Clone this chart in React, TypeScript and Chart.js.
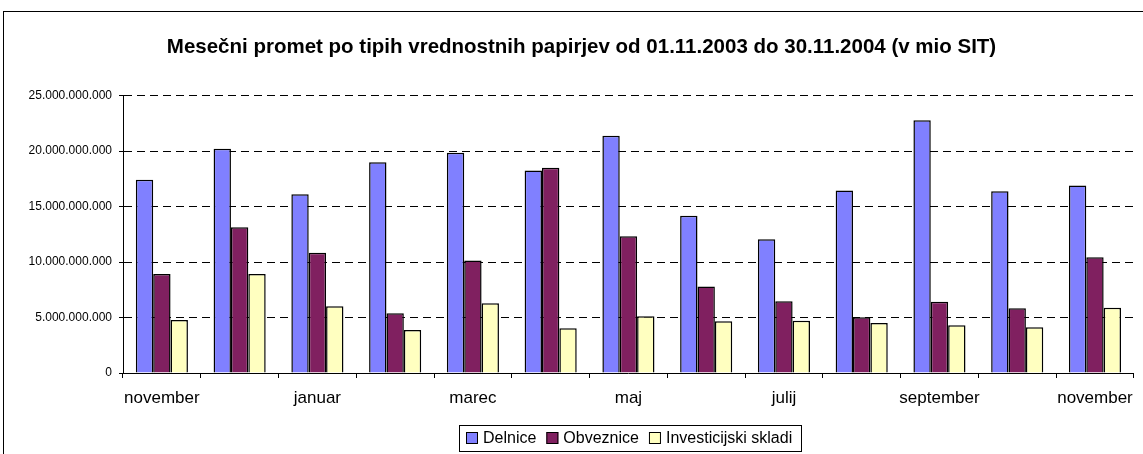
import React, { useEffect, useRef } from "react";
import { Chart, registerables } from "chart.js";

Chart.register(...registerables);

const categories = [
  "november", "december", "januar", "februar", "marec", "april", "maj",
  "junij", "julij", "avgust", "september", "oktober", "november",
];
const delnice = [17.42, 20.2, 16.12, 19.0, 19.85, 18.26, 21.39, 14.17, 12.06, 16.45, 22.77, 16.39, 16.9].map((v) => v * 1e9);
const obveznice = [8.93, 13.14, 10.83, 5.38, 10.13, 18.5, 12.33, 7.79, 6.46, 5.02, 6.41, 5.83, 10.43].map((v) => v * 1e9);
const investicijski = [4.78, 8.93, 6.01, 3.88, 6.28, 4.03, 5.11, 4.66, 4.72, 4.51, 4.3, 4.12, 5.89].map((v) => v * 1e9);
const seriesNames = ["Delnice", "Obveznice", "Investicijski skladi"];
const seriesColors = ["#8080FF", "#802060", "#FFFFC0"];
const titleText = "Mesečni promet po tipih vrednostnih papirjev od 01.11.2003 do 30.11.2004 (v mio SIT)";

const FONT = "'Liberation Sans', Arial, sans-serif";

function fmt(n: number): string {
  return Math.round(n).toString().replace(/\B(?=(\d{3})+(?!\d))/g, ".");
}

const framePlugin = {
  id: "frame",
  afterDraw(chart: any) {
    const ctx = chart.ctx;
    ctx.save();
    ctx.strokeStyle = "#000";
    ctx.lineWidth = 1;
    ctx.strokeRect(3.5, 11.5, 2000, 1000);

    // legend
    const fontSize = 16;
    ctx.font = `${fontSize}px ${FONT}`;
    const box = 12;
    const gapBoxText = 5;
    const gapItems = 10;
    const datasets = chart.data.datasets;
    const widths = datasets.map((d: any) => ctx.measureText(d.label).width);
    let total = 0;
    widths.forEach((w: number, i: number) => {
      total += box + gapBoxText + w + (i < widths.length - 1 ? gapItems : 0);
    });
    const centerX = 629.5;
    const cy = 438;
    let x = Math.round(centerX - total / 2);
    const frameL = x - 7;
    const frameR = x + total + 9;
    ctx.strokeRect(frameL + 0.5, 425.5, Math.round(frameR - frameL), 26);
    ctx.textBaseline = "middle";
    ctx.textAlign = "left";
    datasets.forEach((d: any, i: number) => {
      ctx.fillStyle = d.backgroundColor;
      ctx.fillRect(x, cy - box / 2, box, box);
      ctx.strokeStyle = "#000";
      ctx.lineWidth = 1;
      ctx.strokeRect(x + 0.5, cy - box / 2 + 0.5, box - 1, box - 1);
      ctx.fillStyle = "#000";
      ctx.fillText(d.label, x + box + gapBoxText, cy + 1);
      x += box + gapBoxText + widths[i] + gapItems;
    });
    ctx.restore();
  },
};

export default function App() {
  const ref = useRef<HTMLCanvasElement | null>(null);
  useEffect(() => {
    if (!ref.current) return;
    const data = [delnice, obveznice, investicijski];
    const chart = new Chart(ref.current, {
      type: "bar",
      data: {
        labels: categories,
        datasets: seriesNames.map((name, i) => ({
          label: name,
          data: data[i],
          backgroundColor: seriesColors[i],
          borderColor: "#000",
          borderWidth: 1.5,
          barPercentage: 1,
          categoryPercentage: 0.67,
        })),
      },
      options: {
        animation: false,
        responsive: false,
        layout: { padding: { left: 26, right: 6, top: 0, bottom: 33 } },
        plugins: {
          title: {
            display: true,
            text: titleText,
            color: "#000",
            font: { family: FONT, size: 20.5, weight: "bold", lineHeight: 1.2 },
            padding: { top: 35, bottom: 36 },
          },
          legend: { display: false },
          tooltip: { enabled: false },
        },
        scales: {
          x: {
            grid: {
              display: true,
              drawOnChartArea: false,
              drawTicks: true,
              tickLength: 5,
              color: "#000",
              offset: true,
            },
            border: { display: true, color: "#000", width: 1 },
            ticks: {
              autoSkip: false,
              maxRotation: 0,
              color: "#000",
              padding: 10,
              font: { family: FONT, size: 17 },
              callback: (_v: any, i: number) => (i % 2 === 0 ? categories[i] : ""),
            },
            afterFit: (s: any) => {
              s.height = 48;
            },
          },
          y: {
            min: 0,
            max: 25e9,
            grid: {
              color: "#000",
              lineWidth: 1,
              tickLength: 4,
              tickColor: "#000",
              tickBorderDash: [],
            },
            border: { display: true, color: "#000", width: 1, dash: [8, 5] },
            ticks: {
              stepSize: 5e9,
              color: "#000",
              padding: 7,
              font: { family: FONT, size: 12 },
              callback: (v: any) => fmt(Number(v)),
            },
            afterFit: (s: any) => {
              s.width = 97;
            },
          },
        },
      },
      plugins: [framePlugin],
    } as any);
    return () => chart.destroy();
  }, []);
  return (
    <div style={{ position: "absolute", left: 0, top: 0, width: 1143, height: 454 }}>
      <canvas ref={ref} width={1143} height={454} style={{ width: 1143, height: 454, display: "block" }} />
    </div>
  );
}
